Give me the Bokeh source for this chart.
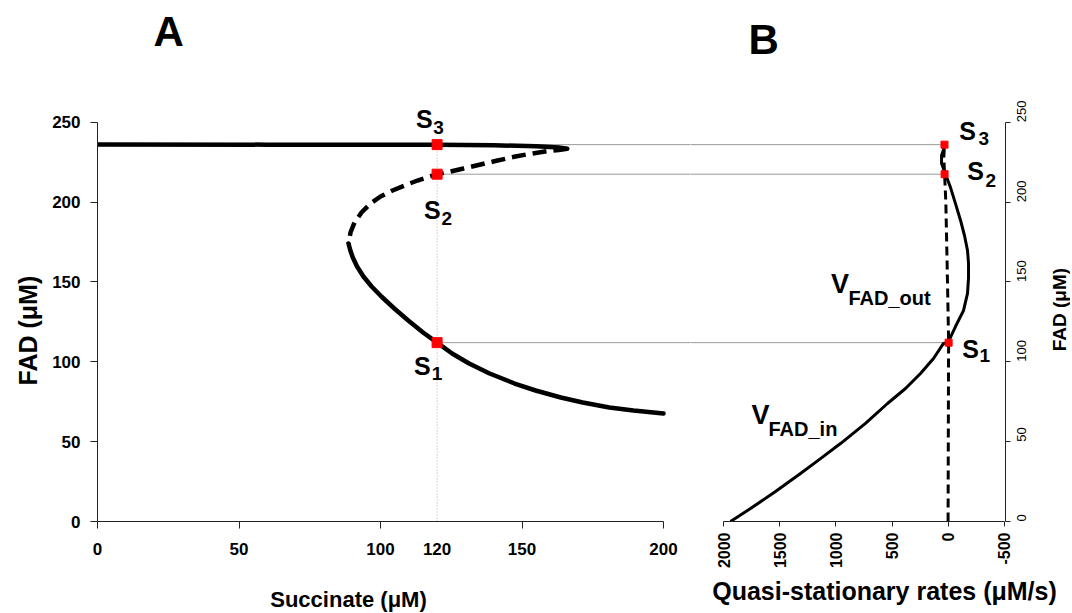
import math
from bokeh.plotting import figure
from bokeh.models import Range1d, FixedTicker, Title
from bokeh.layouts import row, column
from bokeh.embed import file_html
from bokeh.resources import INLINE
from bokeh.core.properties import value

FONT = "Liberation Sans"

# ---------------- Panel A: FAD vs succinate (bifurcation curve) ----------------
upper_succ = [0, 60, 120, 140, 155, 163, 166]
upper_fad = [236.1, 236.0, 235.9, 235.6, 235.0, 234.2, 233.4]

middle_succ = [166, 163.0, 159.0, 153.0, 147.7, 141.34, 135.34, 129.33, 124.73, 120.0,
               117.31, 113.07, 108.48, 104.24, 100.0, 96.47, 93.29, 90.81, 89.4, 88.7]
middle_fad = [233.4, 232.6, 231.9, 230.3, 228.55, 226.05, 223.54, 221.04, 219.16, 217.5,
              216.03, 213.53, 210.39, 207.26, 203.51, 199.12, 193.49, 187.23, 180.96, 174.1]

lower_succ = [88.7, 89.35, 90.21, 91.72, 93.96, 96.87, 100.31, 104.88, 109.8, 115.04, 120.0,
              125.3, 131.31, 138.55, 147.39, 154.81, 163.71, 171.48, 180.85, 189.4, 200.0]
lower_fad = [174.1, 169.69, 165.31, 159.67, 153.41, 147.15, 140.89, 133.38, 125.86, 118.35, 112.0,
             105.2, 98.94, 92.67, 86.41, 82.03, 77.65, 74.51, 71.38, 69.5, 67.62]

succ_fixed = 120
ss_names = ["3", "2", "1"]
ss_fad = [236.0, 217.5, 112.0]

a_xticks = [0, 50, 100, 120, 150, 200]
a_xticks_marked = [0, 50, 100, 150, 200]
fad_ticks = [0, 50, 100, 150, 200, 250]

# ---------------- Panel B: quasi-stationary rates vs FAD ----------------
vin_rate = [1937.7, 1759.8, 1537.4, 1314.9, 1137.0, 959.1, 736.7, 540.9, 380.8, 247.3,
            131.7, 42.7, 3.0, -64, -135, -171, -180, -180, -171, -144, -109, -64, -20,
            25, 60, 60, 43, 34]
vin_fad = [0, 8.1, 18.8, 30.1, 39.4, 48.8, 61.4, 73.9, 83.3, 92.7,
           102.1, 111.5, 112.0, 122.1, 132.1, 142.8, 152.8, 161.6, 169.7, 179.1, 188.5, 199.1, 209.1,
           217.5, 224.2, 229.2, 232.9, 236.0]

vout_rate = [2, 0, -2, -3, 10, 22, 33, 40, 34]
vout_fad = [0, 50, 100, 112, 160, 200, 217.5, 228, 236]

ss_rate = [34, 33, -3]
b_xticks = [2000, 1500, 1000, 500, 0, -500]

# ---------------- geometry ----------------
A_XEND = 209.54
B_XSTART, B_XEND = 2293.6, -508.9
Y_END = 320
H_MAIN = 572
H_TITLE = 40

yr = Range1d(0, Y_END)
common = dict(height=H_MAIN, y_range=yr, output_backend="svg",
              toolbar_location=None, min_border_top=10, min_border_bottom=51,
              background_fill_color="white", border_fill_color="white")

pA = figure(width=690, x_range=Range1d(0, A_XEND), min_border_left=97, min_border_right=0, **common)
pB = figure(width=348, x_range=Range1d(B_XSTART, B_XEND), y_axis_location="right",
            min_border_left=0, min_border_right=33, **common)
pC = figure(width=32, x_range=Range1d(0, 32), x_axis_location=None, y_axis_location=None,
            min_border_left=0, min_border_right=0, **common)
pD = figure(width=1070, height=H_TITLE, x_range=Range1d(0, 1070), y_range=Range1d(0, H_TITLE),
            x_axis_location=None, y_axis_location=None, output_backend="svg",
            toolbar_location=None, min_border_left=0, min_border_right=0,
            min_border_top=0, min_border_bottom=0,
            background_fill_color="white", border_fill_color="white")

for p in (pA, pB, pC, pD):
    p.outline_line_color = None
    p.xgrid.visible = False
    p.ygrid.visible = False

# ---- Panel A drawing ----
pA.segment(x0=[succ_fixed] * 3, y0=ss_fad, x1=[A_XEND + 10] * 3, y1=ss_fad,
           line_color="#9a9a9a", line_width=1)
pA.segment(x0=[succ_fixed], y0=[0], x1=[succ_fixed], y1=[ss_fad[0]],
           line_color="#b0b0b0", line_width=1, line_dash="1 2")
pA.line(upper_succ, upper_fad, line_color="black", line_width=4.5, line_cap="round")
pA.line(middle_succ, middle_fad, line_color="black", line_width=4.5, line_dash="14 7",
        line_join="round")
pA.line(lower_succ, lower_fad, line_color="black", line_width=4.5, line_cap="round",
        line_join="round")
pA.scatter([succ_fixed] * 3, ss_fad, marker="square", size=10, color="red")

pA.text(x=[19.8], y=[307.1], text=["A"], text_font=value(FONT), text_font_style="bold",
        text_font_size="42px", text_align="left", text_baseline="middle", text_color="black")
pA.text(x=[115.5, 118.3, 114.8], y=[252.3, 195.3, 97.1], text=["S", "S", "S"],
        text_font=value(FONT), text_font_style="bold", text_font_size="25px",
        text_align="center", text_baseline="middle", text_color="black")
pA.text(x=[120.5, 123.4, 120.0], y=[247.0, 190.0, 92.5], text=ss_names,
        text_font=value(FONT), text_font_style="bold", text_font_size="19px",
        text_align="center", text_baseline="middle", text_color="black")

# axes A
xa = pA.xaxis[0]
xa.ticker = FixedTicker(ticks=a_xticks, minor_ticks=a_xticks_marked)
xa.bounds = (0, 200)
xa.major_tick_out = 0
xa.major_tick_in = 0
xa.minor_tick_out = 7
xa.minor_tick_in = 0
xa.minor_tick_line_color = "#222222"
xa.major_label_standoff = 14
ya = pA.yaxis[0]
ya.ticker = FixedTicker(ticks=fad_ticks)
ya.bounds = (0, 250)
ya.major_tick_out = 7
ya.major_tick_in = 0
ya.minor_tick_line_color = None
ya.major_label_standoff = 10
for ax in (xa, ya):
    ax.axis_line_color = "#222222"
    ax.major_tick_line_color = "#222222"
    ax.major_label_text_font = FONT
    ax.major_label_text_font_style = "bold"
    ax.major_label_text_font_size = "17px"
    ax.major_label_text_color = "black"

pA.add_layout(Title(text="FAD (μM)", align="left", offset=136, standoff=16,
                    text_font=FONT, text_font_style="bold", text_font_size="25px",
                    text_color="black"), "left")

# ---- Panel B drawing ----
pB.segment(x0=[B_XSTART + 100] * 3, y0=ss_fad, x1=ss_rate, y1=ss_fad,
           line_color="#9a9a9a", line_width=1)
pB.line(vout_rate, vout_fad, line_color="black", line_width=3, line_dash="9 5")
pB.line(vin_rate, vin_fad, line_color="black", line_width=3, line_join="round")
pB.scatter(ss_rate, ss_fad, marker="square", size=7, color="red")

pB.text(x=[1777.6], y=[301.8], text=["B"], text_font=value(FONT), text_font_style="bold",
        text_font_size="42px", text_align="left", text_baseline="middle", text_color="black")
pB.text(x=[-170.8, -242, -197.5], y=[244.8, 219.2, 108.3], text=["S", "S", "S"],
        text_font=value(FONT), text_font_style="bold", text_font_size="25px",
        text_align="center", text_baseline="middle", text_color="black")
pB.text(x=[-315, -377, -325], y=[240.0, 213.7, 104.0], text=ss_names,
        text_font=value(FONT), text_font_style="bold", text_font_size="19px",
        text_align="center", text_baseline="middle", text_color="black")
pB.text(x=[963, 1671], y=[149.0, 67.0], text=["V", "V"],
        text_font=value(FONT), text_font_style="bold", text_font_size="27px",
        text_align="center", text_baseline="middle", text_color="black")
pB.text(x=[888, 1600], y=[140.0, 58.0], text=["FAD_out", "FAD_in"],
        text_font=value(FONT), text_font_style="bold", text_font_size="20px",
        text_align="left", text_baseline="middle", text_color="black")

xb = pB.xaxis[0]
xb.ticker = FixedTicker(ticks=b_xticks)
xb.bounds = (-500, 2000)
xb.major_tick_out = 5
xb.major_tick_in = 0
xb.major_label_standoff = 6
xb.major_label_orientation = math.pi / 2
xb.major_label_text_font_style = "bold"
xb.major_label_text_font_size = "16px"
xb.major_label_overrides = {-500: "-500"}

yb = pB.yaxis[0]
yb.ticker = FixedTicker(ticks=fad_ticks)
yb.bounds = (0, 250)
yb.major_tick_out = 5
yb.major_tick_in = 0
yb.major_label_standoff = 11
yb.major_label_orientation = math.pi / 2
yb.major_label_text_font_style = "normal"
yb.major_label_text_font_size = "13px"
for ax in (xb, yb):
    ax.axis_line_color = "#222222"
    ax.major_tick_line_color = "#222222"
    ax.minor_tick_line_color = None
    ax.major_label_text_font = FONT
    ax.major_label_text_color = "black"

# right-hand axis title (reads bottom to top)
pC.text(x=[21], y=[132.7], text=["FAD (μM)"], angle=math.pi / 2,
        text_font=value(FONT), text_font_style="bold", text_font_size="19px",
        text_align="center", text_baseline="middle", text_color="black")

# bottom axis titles
pD.text(x=[348], y=[13], text=["Succinate (μM)"],
        text_font=value(FONT), text_font_style="bold", text_font_size="22px",
        text_align="center", text_baseline="middle", text_color="black")
pD.text(x=[884], y=[22], text=["Quasi-stationary rates (μM/s)"],
        text_font=value(FONT), text_font_style="bold", text_font_size="25px",
        text_align="center", text_baseline="middle", text_color="black")

layout = column(row(pA, pB, pC, spacing=0), pD, spacing=0)
open("out.html", "w").write(file_html(layout, INLINE))
